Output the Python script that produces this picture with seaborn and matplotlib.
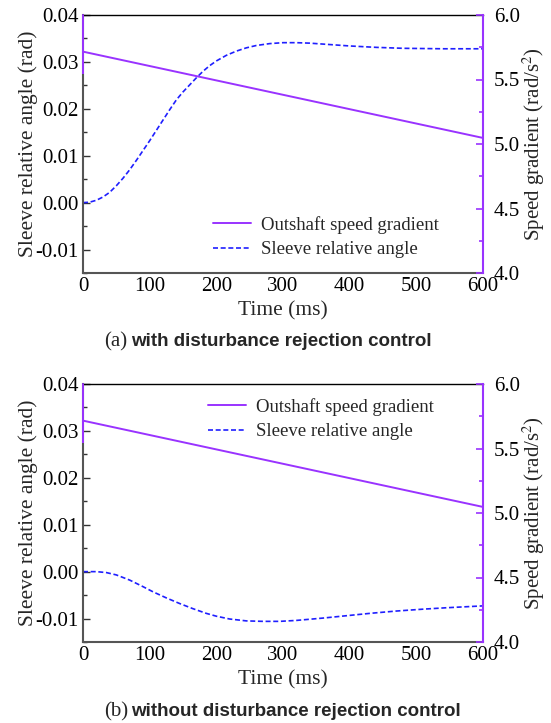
import numpy as np
import pandas as pd
import matplotlib
matplotlib.use("Agg")
import matplotlib.pyplot as plt
import seaborn as sns
from matplotlib.ticker import AutoMinorLocator, FixedLocator, FixedFormatter

# ---------------- data ----------------
time_a = [0, 10, 20, 30, 40, 50, 60, 70, 80, 90, 100, 110, 120, 130, 140, 150, 160, 170,
          180, 190, 200, 215, 230, 245, 260, 280, 300, 320, 340, 370, 400, 440, 480, 540, 600]
angle_a = [0.0000, 0.0001, 0.0005, 0.0012, 0.0022, 0.0036, 0.0052, 0.0070, 0.0090, 0.0111,
           0.0132, 0.0154, 0.0176, 0.0198, 0.0219, 0.0236, 0.0251, 0.0266, 0.0280, 0.0292,
           0.0302, 0.0314, 0.0323, 0.0330, 0.0335, 0.0339, 0.0341, 0.0341, 0.0340, 0.0337,
           0.0334, 0.0331, 0.0329, 0.0328, 0.0328]

time_b = [0, 20, 35, 50, 70, 90, 105, 125, 145, 165, 185, 200, 220, 245, 270, 295, 320,
          360, 395, 430, 470, 510, 545, 600]
angle_b = [0.0000, -0.0000, -0.0002, -0.0007, -0.0018, -0.0032, -0.0043, -0.0056, -0.0068,
           -0.0079, -0.0089, -0.0095, -0.0101, -0.0105, -0.0106, -0.0106, -0.0104, -0.0099,
           -0.0094, -0.0089, -0.0084, -0.0080, -0.0077, -0.0073]

grad_time = [0, 0, 0, 600]
grad_vals = [6.00, 5.55, 5.716, 5.047]

x_ticks = [0, 100, 200, 300, 400, 500, 600]
left_ticks = [-0.01, 0.00, 0.01, 0.02, 0.03, 0.04]
left_labels = ["-0.01", "0.00", "0.01", "0.02", "0.03", "0.04"]
right_ticks = [4.0, 4.5, 5.0, 5.5, 6.0]
right_labels = ["4.0", "4.5", "5.0", "5.5", "6.0"]

captions = [("(a)", "with disturbance rejection control"),
            ("(b)", "without disturbance rejection control")]
grad_label = "Outshaft speed gradient"
angle_label = "Sleeve relative angle"

# ---------------- style ----------------
sns.set_theme(style="white")
plt.rcParams["font.family"] = ["Liberation Serif", "DejaVu Serif"]
plt.rcParams["mathtext.fontset"] = "stix"
plt.rcParams["xtick.direction"] = "in"
plt.rcParams["ytick.direction"] = "in"

PURPLE = "#9933ff"
BLUE = "#1f1fff"
FS_T = 15
FS_L = 15.5

fig = plt.figure(figsize=(5.51, 7.23), dpi=100)

panels = [
    dict(t=time_a, a=angle_a, rect=[83 / 551, (723 - 273) / 723, 400 / 551, 258 / 723],
         leg=(0.325, 0.14), cap_y=1 - 346 / 723),
    dict(t=time_b, a=angle_b, rect=[83 / 551, (723 - 642) / 723, 400 / 551, 258 / 723],
         leg=(0.313, 0.864), cap_y=1 - 716 / 723),
]

for i, p in enumerate(panels):
    ax = fig.add_axes(p["rect"])
    df_a = pd.DataFrame({"t": p["t"], "v": p["a"]})
    sns.lineplot(data=df_a, x="t", y="v", ax=ax, color=BLUE, lw=1.2,
                 linestyle=(0, (3, 1.6)), sort=False, estimator=None, label=angle_label,
                 legend=False)
    ax.set_xlim(0, 600)
    ax.set_ylim(-0.015, 0.04)
    ax.xaxis.set_major_locator(FixedLocator(x_ticks))
    ax.xaxis.set_minor_locator(AutoMinorLocator(2))
    ax.yaxis.set_major_locator(FixedLocator(left_ticks))
    ax.yaxis.set_major_formatter(FixedFormatter(left_labels))
    ax.yaxis.set_minor_locator(AutoMinorLocator(2))
    ax.tick_params(axis="both", which="major", labelsize=FS_T, length=5, width=1,
                   colors="#333333", labelcolor="black", pad=3)
    ax.tick_params(axis="both", which="minor", length=3, width=1, colors="#333333")
    ax.tick_params(axis="x", top=False, which="both")
    ax.set_xlabel("Time (ms)", fontsize=FS_L, va="center")
    ax.xaxis.set_label_coords(0.5, -0.145)
    ax.set_ylabel("Sleeve relative angle (rad)", fontsize=FS_L, va="center")
    ax.yaxis.set_label_coords(-0.138, 0.5)
    for s in ["left", "bottom"]:
        ax.spines[s].set_color("#555555")
        ax.spines[s].set_linewidth(1.5)
    ax.spines["top"].set_color("black")
    ax.spines["top"].set_linewidth(1.0)

    ax2 = ax.twinx()
    df_g = pd.DataFrame({"t": grad_time, "v": grad_vals})
    sns.lineplot(data=df_g, x="t", y="v", ax=ax2, color=PURPLE, lw=1.4,
                 sort=False, estimator=None, label=grad_label, legend=False)
    for ln in ax2.get_lines():
        ln.set_clip_on(False)
    ax2.set_ylim(4.0, 6.0)
    ax2.set_xlim(0, 600)
    ax2.yaxis.set_major_locator(FixedLocator(right_ticks))
    ax2.yaxis.set_major_formatter(FixedFormatter(right_labels))
    ax2.yaxis.set_minor_locator(AutoMinorLocator(2))
    ax2.tick_params(axis="y", which="major", labelsize=FS_T, length=5, width=1.2,
                    colors=PURPLE, labelcolor="black", pad=8)
    ax2.tick_params(axis="y", which="minor", length=3, width=1.2, colors=PURPLE)
    ax2.set_ylabel("Speed gradient (rad/s$^2$)", fontsize=15, va="center")
    ax2.yaxis.set_label_coords(1.128, 0.5)
    ax2.set_xlabel("")
    ax2.spines["right"].set_color(PURPLE)
    ax2.spines["right"].set_linewidth(1.5)
    for s in ["left", "bottom", "top"]:
        ax2.spines[s].set_visible(False)

    h1, l1 = ax.get_legend_handles_labels()
    h2, l2 = ax2.get_legend_handles_labels()
    leg = ax2.legend(h2 + h1, l2 + l1, loc="center left", bbox_to_anchor=p["leg"],
                     frameon=False, fontsize=13.5, handlelength=2.0, borderpad=0,
                     borderaxespad=0, labelspacing=0.4, handletextpad=0.55)

    pre, bold = captions[i]
    fig.text(104 / 551, p["cap_y"], pre, fontsize=15, ha="left", va="baseline",
             family=["Liberation Serif"])
    fig.text(131 / 551, p["cap_y"], bold, fontsize=13.5, ha="left", va="baseline",
             family=["Liberation Sans"], fontweight="bold")

fig.savefig("out.png", dpi=100)
